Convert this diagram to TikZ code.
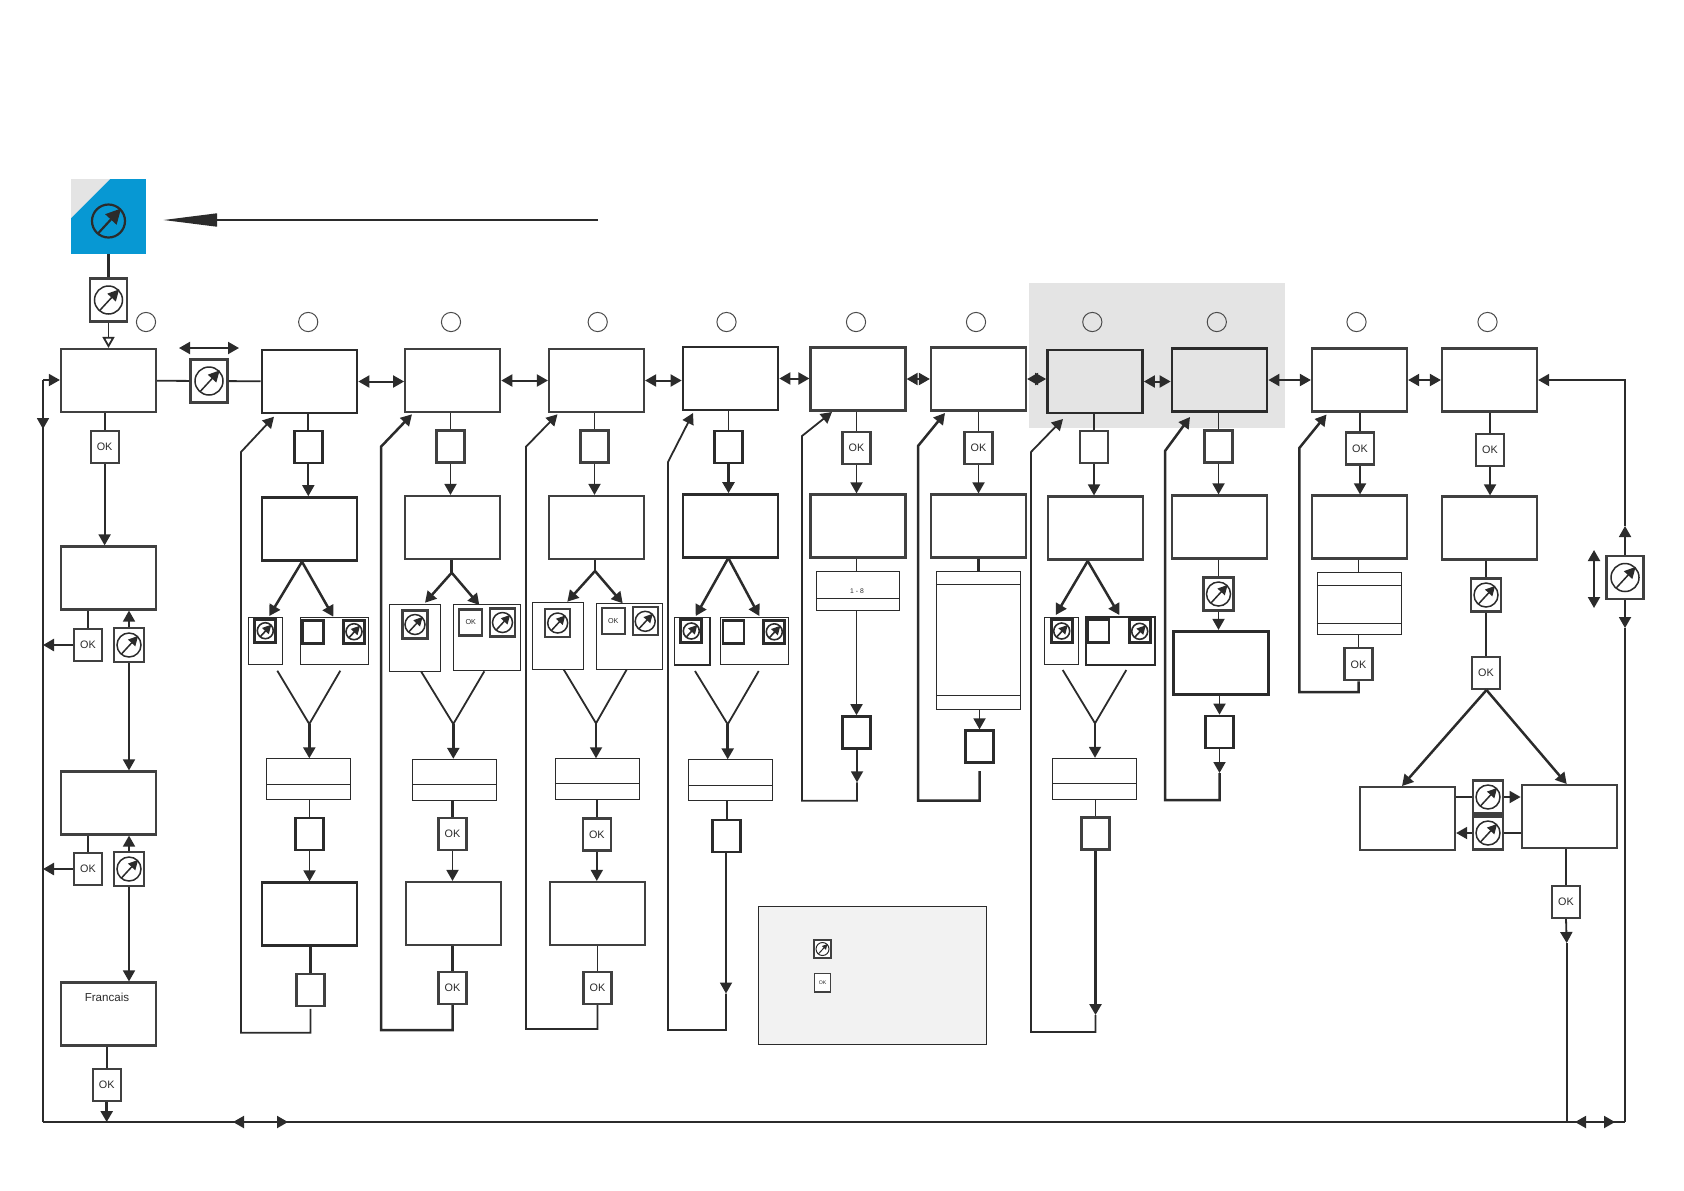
\documentclass[tikz,border=0pt]{standalone}
\usepackage{fontspec}
\setmainfont{Liberation Sans}
\usepackage{xcolor}
\usetikzlibrary{arrows.meta}
\definecolor{ink}{HTML}{2B2B2B}
\definecolor{keyblue}{HTML}{0798D3}
\definecolor{bandgray}{HTML}{E4E4E4}
\tikzset{
 >={Triangle[length=5.5pt,width=6pt]},
 sz/.style 2 args={minimum width=#1*0.5pt,minimum height=#2*0.5pt},
 dialmark/.style n args={3}{path picture={
  \begin{scope}[shift={(path picture bounding box.center)}]
   \draw[ink,line width=#2] (0,0) circle[radius=#1*0.5pt];
   \draw[ink,line width=#2,-{Triangle[length=#3,width=#3]}]
    (-0.32*#1 pt,-0.38*#1 pt) -- (0.38*#1 pt,0.38*#1 pt);
  \end{scope}}},
 menubox/.style={draw=ink!90,line width=1.1pt,inner sep=0pt,sz={95}{63}},
 heavybox/.style={menubox,line width=1.35pt,draw=ink},
 shadebox/.style={heavybox,fill=bandgray},
 keybox/.style={draw=ink!90,fill=white,line width=1.1pt,inner sep=0pt,sz={28}{32},
  font=\fontsize{5.4}{6}\selectfont,text=ink},
 heavykey/.style={keybox,line width=1.35pt,draw=ink},
 dialkey/.style={keybox,sz={30}{33},dialmark={12}{0.75pt}{4.8pt}},
 widedial/.style={keybox,sz={37}{43},dialmark={14}{0.75pt}{5.6pt}},
 minidial/.style={keybox,line width=1.6pt,draw=ink,sz={21}{23},dialmark={8}{0.8pt}{4.4pt}},
 paneldial/.style={keybox,sz={25}{28},dialmark={10}{0.75pt}{4.4pt}},
 okmini/.style={keybox,sz={23}{26},font=\fontsize{3.6}{4}\selectfont},
 blankmini/.style={heavykey,sz={21}{23}},
 panel/.style={draw=ink,line width=0.5pt,inner sep=0pt},
 tablebox/.style={draw=ink,line width=0.5pt,inner sep=0pt,sz={84}{41}},
 rowrule/.style={draw=ink,line width=0.5pt},
 stepmark/.style={circle,draw=ink!85,line width=0.5pt,inner sep=0pt,minimum size=9.6pt},
 wire/.style={draw=ink,line width=0.9pt},
 fatwire/.style={draw=ink,line width=1.25pt},
 flow/.style={wire,->},
 fatflow/.style={fatwire,->},
 bothflow/.style={wire,line width=1pt,<->}
}
\begin{document}
\begin{tikzpicture}[x=0.5pt,y=-0.5pt]
 \useasboundingbox (0,0) rectangle (1684,1190);
 \fill[bandgray] (1029,282.5) rectangle (1284.5,427.5);

 \node[fill=keyblue,inner sep=0pt,sz={75}{75}] (mainkey) at (108.5,216.5) {};
 \fill[bandgray] (71,179) -- (110,179) -- (71,218) -- cycle;
 \node[inner sep=0pt,sz={38}{38},dialmark={16.5}{1.1pt}{7.5pt}] (maindial) at (108.5,221) {};
 \coordinate (backend) at (598,220);
 \coordinate (backtip) at (163,220);
 \draw[ink,line width=1.15pt,-{Triangle[length=27pt,width=6.4pt]}] (backend) -- (backtip);

 \foreach \n/\x in {s1/146,s2/308.2,s3/451,s4/597.7,s5/726.5,s6/856,s7/976,s8/1092.3,s9/1216.8,s10/1356.5,s11/1487.5}
  \node[stepmark] (\n) at (\x,322) {};

 \node[widedial] (topdial) at (108.5,300) {};
 \node[menubox] (a1) at (108.5,380.5) {};
 \node[keybox] (aok1) at (104.6,447) {OK};
 \node[menubox] (a2) at (108.5,578) {};
 \node[keybox] (aok2) at (88,645) {OK};
 \node[dialkey,sz={30}{34}] (adial2) at (129,645) {};
 \node[menubox] (a3) at (108.5,803) {};
 \node[keybox] (aok3) at (88,869) {OK};
 \node[dialkey,sz={30}{34}] (adial3) at (129,869) {};
 \node[menubox] (a4) at (108.5,1014) {};
 \node[font=\fontsize{5.8}{6}\selectfont,text=ink] (francais) at (107,997) {Francais};
 \node[keybox] (aok4) at (106.7,1085) {OK};
 \node[widedial] (passdial) at (209,381) {};
 \coordinate (railsw) at (43,1122);
 \coordinate (railse) at (1625,1122);
 \coordinate (railnw) at (43,380);
 \coordinate (railne) at (1625,380);
 \coordinate (raildown) at (43,429);
 \coordinate (passl) at (179,348);
 \coordinate (passr) at (239,348);

 \draw[fatwire] (mainkey) -- (topdial);
 \draw[wire,-{Triangle[open,fill=white,length=5.5pt,width=6pt]}] (topdial.south) -- (a1.north);
 \draw[wire] (a1) -- (passdial);
 \draw[bothflow] (passl) -- (passr);
 \draw[wire] (railsw) -- (railnw);
 \draw[flow] (railnw) -- (a1.west |- railnw);
 \draw[flow] (railnw) -- (raildown);
 \draw[wire] (aok1 |- a1.south) -- (aok1.north);
 \draw[flow] (aok1.south) -- (aok1.south |- a2.north);
 \draw[wire] (aok2 |- a2.south) -- (aok2.north);
 \draw[flow] (adial2.north) -- (adial2.north |- a2.south);
 \draw[fatflow] (aok2.west) -- (railnw |- aok2.west);
 \draw[flow] (adial2.south) -- (adial2.south |- a3.north);
 \draw[fatwire] (aok3 |- a3.south) -- (aok3.north);
 \draw[flow] (adial3.north) -- (adial3.north |- a3.south);
 \draw[fatflow] (aok3.west) -- (railnw |- aok3.west);
 \draw[flow] (adial3.south) -- (adial3.south |- a4.north);
 \draw[wire] (aok4 |- a4.south) -- (aok4.north);
 \draw[fatflow] (aok4.south) -- (aok4.south |- railsw);
 \draw[wire] (railsw) -- (railse);
 \coordinate (railaa) at (233,1122);
 \coordinate (railab) at (288,1122);
 \coordinate (railba) at (1575,1122);
 \coordinate (railbb) at (1615,1122);
 \draw[bothflow] (railaa) -- (railab);
 \draw[bothflow] (railba) -- (railbb);

 \node[heavybox] (b1) at (309.5,381.5) {};
 \node[heavykey] (bk1) at (308.3,447) {};
 \node[heavybox] (b2) at (309.5,529) {};
 \node[panel,sz={34.4}{47}] (bl) at (265.5,640.8) {};
 \node[panel,sz={68.4}{47}] (br) at (334.5,640.8) {};
 \node[minidial] (bd1) at (265.3,630.7) {};
 \node[blankmini] (bk2) at (313.3,631.7) {};
 \node[minidial] (bd2) at (354,631.7) {};
 \node[tablebox] (bt) at (308.8,779.3) {};
 \node[heavykey] (bk3) at (309.5,834) {};
 \node[heavybox] (b3) at (309.5,914.2) {};
 \node[keybox] (bk4) at (310.5,989.7) {};
 \coordinate (bsp) at (302,561.7);
 \coordinate (bltip) at (269.3,616);
 \coordinate (brtip) at (333.3,616.7);
 \coordinate (bvl) at (277.3,670.7);
 \coordinate (bv) at (309.3,724);
 \coordinate (bvr) at (340.3,670.7);
 \coordinate (bbot) at (241,1032.7);
 \coordinate (bup) at (241,452);
 \coordinate (btip) at (274,416.7);
 \draw[wire] (passdial) -- (b1);
 \draw[wire] (bk1 |- b1.south) -- (bk1.north);
 \draw[flow] (bk1.south) -- (bk1.south |- b2.north);
 \draw[fatflow] (bsp) -- (bltip);
 \draw[fatflow] (bsp) -- (brtip);
 \draw[wire] (bvl) -- (bv) -- (bvr);
 \draw[fatflow] (bv) -- (bv |- bt.north);
 \draw[rowrule] (bt.west |- 0,784.3) -- (bt.east |- 0,784.3);
 \draw[wire] (bk3 |- bt.south) -- (bk3.north);
 \draw[flow] (bk3.south) -- (bk3.south |- b3.north);
 \draw[fatwire] (bk4 |- b3.south) -- (bk4.north);
 \draw[flow,shorten <=1pt] (bk4.south) |- (bbot) -- (bup) -- (btip);

 \node[menubox] (c1) at (452.7,380.5) {};
 \node[keybox] (ck1) at (450.5,446.5) {};
 \node[menubox] (c2) at (452.7,527.5) {};
 \node[panel,sz={51.4}{66.7}] (cl) at (415,637.7) {};
 \node[panel,sz={66.6}{65.7}] (cr) at (487,637.8) {};
 \node[paneldial] (cd1) at (415,624.5) {};
 \node[okmini] (ck2) at (470.7,622.5) {OK};
 \node[paneldial] (cd2) at (502.5,622.5) {};
 \node[tablebox] (ct) at (454.5,779.8) {};
 \node[keybox] (ck3) at (452.5,834) {OK};
 \node[menubox] (c3) at (453.7,913.5) {};
 \node[keybox] (ck4) at (452.5,988) {OK};
 \coordinate (csp) at (451.7,572.7);
 \coordinate (cltip) at (425,602.7);
 \coordinate (crtip) at (479.3,605);
 \coordinate (cvl) at (421,671.3);
 \coordinate (cv) at (453.3,724);
 \coordinate (cvr) at (484.3,671.3);
 \coordinate (cbot) at (381,1030);
 \coordinate (cup) at (381,446.7);
 \coordinate (ctip) at (412,414.3);
 \draw[wire] (ck1 |- c1.south) -- (ck1.north);
 \draw[flow] (ck1.south) -- (ck1.south |- c2.north);
 \draw[fatwire] (csp |- c2.south) -- (csp);
 \draw[fatflow] (csp) -- (cltip);
 \draw[fatflow] (csp) -- (crtip);
 \draw[wire] (cvl) -- (cv) -- (cvr);
 \draw[fatflow] (cv) -- (cv |- ct.north);
 \draw[rowrule] (ct.west |- 0,784.3) -- (ct.east |- 0,784.3);
 \draw[fatwire] (ck3 |- ct.south) -- (ck3.north);
 \draw[flow] (ck3.south) -- (ck3.south |- c3.north);
 \draw[fatwire] (ck4 |- c3.south) -- (ck4.north);
 \draw[fatflow] (ck4.south) |- (cbot) -- (cup) -- (ctip);

 \node[menubox] (d1) at (596.5,380.5) {};
 \node[keybox] (dk1) at (594.5,446.5) {};
 \node[menubox] (d2) at (596.5,527.5) {};
 \node[panel,sz={51.4}{66.7}] (dl) at (557.7,636) {};
 \node[panel,sz={66.4}{66}] (dr) at (629.5,636.3) {};
 \node[paneldial] (dd1) at (557.7,623) {};
 \node[okmini] (dk2) at (613.3,621.3) {OK};
 \node[paneldial] (dd2) at (645.2,621.3) {};
 \node[tablebox] (dt) at (597.3,779.3) {};
 \node[keybox] (dk3) at (596.8,834.5) {OK};
 \node[menubox] (d3) at (597.2,913.5) {};
 \node[keybox] (dk4) at (597.5,988) {OK};
 \coordinate (dsp) at (595,571);
 \coordinate (dltip) at (567.3,601.7);
 \coordinate (drtip) at (622.7,603.3);
 \coordinate (dvl) at (563.7,669.5);
 \coordinate (dv) at (596,723.3);
 \coordinate (dvr) at (626.7,669.5);
 \coordinate (dbot) at (526,1029);
 \coordinate (dup) at (526,446.7);
 \coordinate (dtip) at (557.5,414.3);
 \draw[wire] (dk1 |- d1.south) -- (dk1.north);
 \draw[flow] (dk1.south) -- (dk1.south |- d2.north);
 \draw[wire] (dsp |- d2.south) -- (dsp);
 \draw[fatflow] (dsp) -- (dltip);
 \draw[fatflow] (dsp) -- (drtip);
 \draw[wire] (dvl) -- (dv) -- (dvr);
 \draw[flow] (dv) -- (dv |- dt.north);
 \draw[rowrule] (dt.west |- 0,783.3) -- (dt.east |- 0,783.3);
 \draw[wire] (dk3 |- dt.south) -- (dk3.north);
 \draw[flow] (dk3.south) -- (dk3.south |- d3.north);
 \draw[wire] (dk4 |- d3.south) -- (dk4.north);
 \draw[flow] (dk4.south) |- (dbot) -- (dup) -- (dtip);

 \node[heavybox] (e1) at (730.5,378.5) {};
 \node[heavykey] (ek1) at (728.5,447) {};
 \node[heavybox] (e2) at (730.5,526) {};
 \node[panel,line width=0.8pt,sz={35.4}{47.4}] (el) at (692,641) {};
 \node[panel,sz={68.4}{47.4}] (er) at (754.5,641) {};
 \node[minidial] (ed1) at (691.3,631) {};
 \node[blankmini] (ek2) at (733.5,631.8) {};
 \node[minidial] (ed2) at (774.3,631.8) {};
 \node[tablebox] (et) at (730.5,780.3) {};
 \node[heavykey] (ek3) at (726.7,836) {};
 \coordinate (esp) at (728.3,558);
 \coordinate (eltip) at (695.7,616);
 \coordinate (ertip) at (759.3,616);
 \coordinate (evl) at (695,671);
 \coordinate (ev) at (727.7,724.3);
 \coordinate (evr) at (758.7,671);
 \coordinate (edown) at (726,993.5);
 \coordinate (ebot) at (668,1030);
 \coordinate (eup) at (668,462);
 \coordinate (etip) at (693,413);
 \draw[wire] (ek1 |- e1.south) -- (ek1.north);
 \draw[fatflow] (ek1.south) -- (ek1.south |- e2.north);
 \draw[fatflow] (esp) -- (eltip);
 \draw[fatflow] (esp) -- (ertip);
 \draw[wire] (evl) -- (ev) -- (evr);
 \draw[fatflow] (ev) -- (ev |- et.north);
 \draw[rowrule] (et.west |- 0,785.3) -- (et.east |- 0,785.3);
 \draw[wire] (ek3 |- et.south) -- (ek3.north);
 \draw[flow] (ek3.south -| edown) -- (edown);
 \draw[flow] (edown) |- (ebot) -- (eup) -- (etip);

 \node[menubox] (f1) at (858,379) {};
 \node[keybox] (fk1) at (856.5,448) {OK};
 \node[menubox] (f2) at (858,526) {};
 \node[tablebox,sz={83.4}{39.4}] (ft) at (858,591) {};
 \node[font=\fontsize{3.4}{4}\selectfont,text=ink] (frange) at (857,591) {1 - 8};
 \node[heavykey] (fk2) at (856.5,732.5) {};
 \coordinate (fdown) at (857,782.3);
 \coordinate (fbot) at (802,800.7);
 \coordinate (fup) at (802,436);
 \coordinate (ftip) at (832,412);
 \draw[wire] (fk1 |- f1.south) -- (fk1.north);
 \draw[flow] (fk1.south) -- (fk1.south |- f2.north);
 \draw[wire] (fk1 |- f2.south) -- (fk1 |- ft.north);
 \draw[rowrule] (ft.west |- 0,598.3) -- (ft.east |- 0,598.3);
 \draw[flow] (fk2 |- ft.south) -- (fk2.north);
 \draw[flow] (fk2.south -| fdown) -- (fdown);
 \draw[flow] (fdown) |- (fbot) -- (fup) -- (ftip);

 \node[menubox] (g1) at (978.5,379) {};
 \node[keybox] (gk1) at (978.5,448) {OK};
 \node[menubox] (g2) at (978.5,526) {};
 \node[tablebox,sz={84.4}{138}] (gt) at (978.5,640.3) {};
 \node[heavykey] (gk2) at (979.5,746.7) {};
 \coordinate (gbot) at (918,800.7);
 \coordinate (gup) at (918,446);
 \coordinate (gtip) at (945,413);
 \draw[wire] (gk1 |- g1.south) -- (gk1.north);
 \draw[flow] (gk1.south) -- (gk1.south |- g2.north);
 \draw[fatwire] (gk1 |- g2.south) -- (gk1 |- gt.north);
 \draw[rowrule] (gt.west |- 0,584) -- (gt.east |- 0,584);
 \draw[rowrule] (gt.west |- 0,695.3) -- (gt.east |- 0,695.3);
 \draw[flow] (gk2 |- gt.south) -- (gk2.north);
 \draw[fatflow,shorten <=3.5pt] (gk2.south) |- (gbot) -- (gup) -- (gtip);

 \node[shadebox] (h1) at (1095,381.5) {};
 \node[keybox] (hk1) at (1094,447) {};
 \node[menubox] (h2) at (1095.5,528) {};
 \node[panel,sz={34.4}{47.4}] (hl) at (1061.5,641) {};
 \node[panel,line width=1pt,sz={69}{47.4}] (hr) at (1120.2,641) {};
 \node[minidial] (hd1) at (1061.7,631) {};
 \node[blankmini] (hk2) at (1098.5,631.3) {};
 \node[minidial] (hd2) at (1139.7,631.3) {};
 \node[tablebox] (ht) at (1094.5,778.8) {};
 \node[keybox] (hk3) at (1095.5,833.5) {};
 \coordinate (hsp) at (1087.7,561);
 \coordinate (hltip) at (1055.7,615);
 \coordinate (hrtip) at (1119.3,615);
 \coordinate (hvl) at (1062.7,670);
 \coordinate (hv) at (1095,723.3);
 \coordinate (hvr) at (1126.3,670);
 \coordinate (hdown) at (1095.5,1015);
 \coordinate (hbot) at (1031,1032);
 \coordinate (hup) at (1031,452);
 \coordinate (htip) at (1063,419);
 \draw[wire] (hk1 |- h1.south) -- (hk1.north);
 \draw[flow] (hk1.south) -- (hk1.south |- h2.north);
 \draw[fatflow] (hsp) -- (hltip);
 \draw[fatflow] (hsp) -- (hrtip);
 \draw[wire] (hvl) -- (hv) -- (hvr);
 \draw[flow] (hv) -- (hv |- ht.north);
 \draw[rowrule] (ht.west |- 0,783.3) -- (ht.east |- 0,783.3);
 \draw[wire] (hk3 |- ht.south) -- (hk3.north);
 \draw[fatflow] (hk3.south) -- (hdown);
 \draw[flow] (hdown) |- (hbot) -- (hup) -- (htip);

 \node[shadebox] (i1) at (1219.5,380) {};
 \node[keybox] (ik1) at (1218.5,446.5) {};
 \node[menubox] (i2) at (1219.5,527) {};
 \node[dialkey] (id1) at (1218.5,594) {};
 \node[heavybox] (i3) at (1220.7,662.7) {};
 \node[heavykey] (ik2) at (1219.5,732) {};
 \coordinate (idown) at (1219.5,773);
 \coordinate (ibot) at (1165,800);
 \coordinate (iup) at (1165,451);
 \coordinate (itip) at (1190,417);
 \draw[wire] (ik1 |- i1.south) -- (ik1.north);
 \draw[flow] (ik1.south) -- (ik1.south |- i2.north);
 \draw[wire] (id1 |- i2.south) -- (id1.north);
 \draw[flow] (id1.south) -- (id1.south |- i3.north);
 \draw[flow] (ik2 |- i3.south) -- (ik2.north);
 \draw[flow] (ik2.south) -- (idown);
 \draw[fatflow] (idown) |- (ibot) -- (iup) -- (itip);

 \node[menubox] (j1) at (1359.5,380) {};
 \node[keybox] (jk1) at (1360,448.5) {OK};
 \node[menubox] (j2) at (1359.5,527) {};
 \node[tablebox,sz={84.4}{62}] (jt) at (1359.5,603.3) {};
 \node[keybox] (jk2) at (1358.5,664.3) {OK};
 \coordinate (jbot) at (1299.3,692);
 \coordinate (jup) at (1299.3,448);
 \coordinate (jtip) at (1326.5,414.5);
 \draw[wire] (jk1 |- j1.south) -- (jk1.north);
 \draw[flow] (jk1.south) -- (jk1.south |- j2.north);
 \draw[wire] (jk2 |- j2.south) -- (jk2 |- jt.north);
 \draw[rowrule] (jt.west |- 0,585.3) -- (jt.east |- 0,585.3);
 \draw[rowrule] (jt.west |- 0,623.3) -- (jt.east |- 0,623.3);
 \draw[wire] (jk2 |- jt.south) -- (jk2.north);
 \draw[fatflow] (jk2.south) |- (jbot) -- (jup) -- (jtip);

 \node[menubox] (k1) at (1489.5,380) {};
 \node[keybox] (kk1) at (1490,450) {OK};
 \node[menubox] (k2) at (1489.8,528) {};
 \node[dialkey] (kd1) at (1486,595) {};
 \node[keybox] (kk2) at (1486,673) {OK};
 \node[menubox] (l1) at (1407.5,818.5) {};
 \node[menubox] (l2) at (1569.2,816.5) {};
 \node[dialkey] (ld1) at (1488,797) {};
 \node[dialkey] (ld2) at (1488,833) {};
 \node[keybox] (lk) at (1566,902) {OK};
 \node[widedial] (rdial) at (1625,577.5) {};
 \coordinate (ksp) at (1486.5,690);
 \coordinate (kltip) at (1402,786);
 \coordinate (krtip) at (1566.7,784);
 \coordinate (lshut) at (1566.7,943);
 \coordinate (rup) at (1625,526);
 \coordinate (rdown) at (1625,628);
 \coordinate (rsideu) at (1594,550);
 \coordinate (rsided) at (1594,608);
 \draw[wire] (kk1 |- k1.south) -- (kk1.north);
 \draw[flow] (kk1.south) -- (kk1.south |- k2.north);
 \draw[wire] (kd1 |- k2.south) -- (kd1.north);
 \draw[wire] (kd1.south) -- (kk2.north);
 \draw[fatflow] (ksp) -- (kltip);
 \draw[fatflow] (ksp) -- (krtip);
 \draw[wire] (l1.east |- ld1) -- (ld1);
 \draw[flow] (ld1) -- (l2.west |- ld1);
 \draw[fatwire] (l2.west |- ld2) -- (ld2);
 \draw[flow] (ld2) -- (l1.east |- ld2);
 \draw[fatwire] (lk |- l2.south) -- (lk.north);
 \draw[flow] (lk.south) -- (lshut);
 \draw[wire] (lshut) -- (lshut |- railse);
 \draw[flow] (rdial.north) -- (rup);
 \draw[flow] (rup) |- (k1.east |- railne);
 \draw[flow] (rdial.south) -- (rdown);
 \draw[wire] (rdown) -- (railse);
 \draw[bothflow] (rsideu) -- (rsided);

 \foreach \p/\q in {b1/c1,c1/d1,d1/e1,e1/f1,f1/g1,g1/h1,h1/i1,i1/j1,j1/k1}
  \draw[bothflow] (\p.east) -- (\p.east -| \q.west);

 \node[draw=ink,line width=0.5pt,fill=black!5,inner sep=0pt,sz={228.4}{138.3}] (legend) at (872.5,975.2) {};
 \node[keybox,line width=1pt,sz={16.4}{18.3},dialmark={6.5}{0.5pt}{2.6pt}] (legdial) at (822.5,949) {};
 \node[keybox,line width=0.7pt,sz={16.4}{18.7},font=\fontsize{2.6}{3}\selectfont] (legok) at (822.5,982.7) {OK};
\end{tikzpicture}
\end{document}
